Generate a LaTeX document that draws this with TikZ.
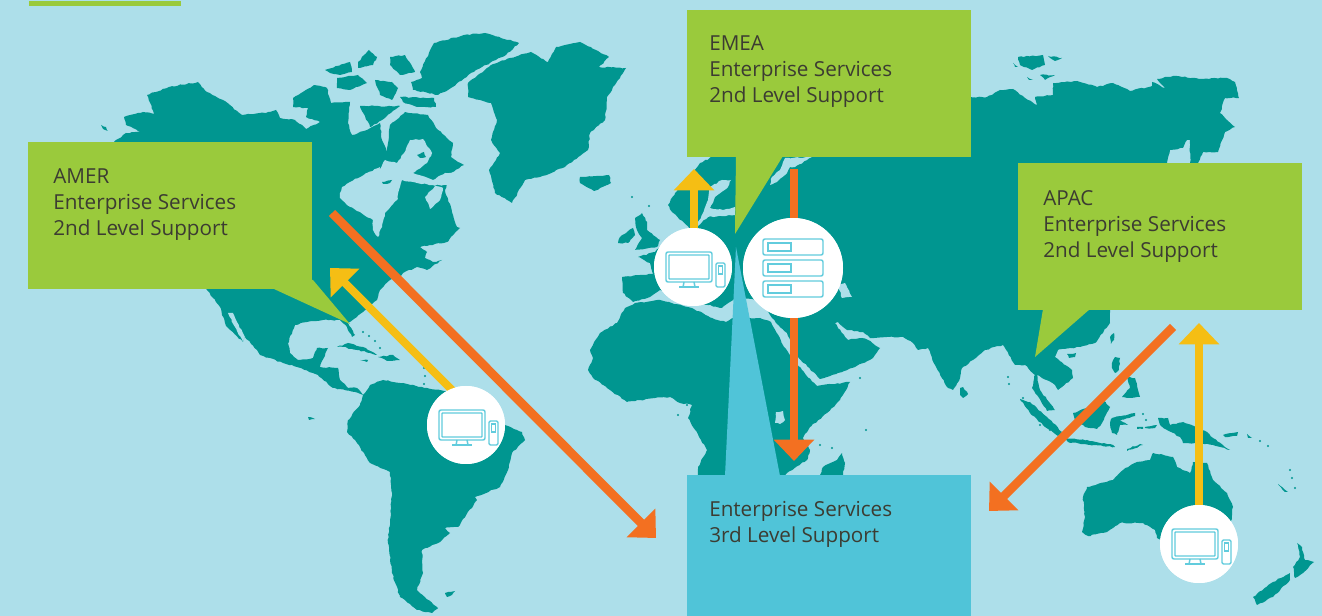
\documentclass[tikz,border=0pt]{standalone}
\usepackage{fontspec}
\setmainfont{Open Sans}
\usetikzlibrary{arrows.meta,decorations.pathmorphing}
\definecolor{seablue}{HTML}{ADDFEA}
\definecolor{landteal}{HTML}{009690}
\definecolor{boxgreen}{HTML}{9ACA3C}
\definecolor{boxblue}{HTML}{50C4D8}
\definecolor{arroworange}{HTML}{F37021}
\definecolor{arrowyellow}{HTML}{F5BE14}
\definecolor{icontone}{HTML}{62CCDD}
\definecolor{labeltone}{HTML}{3C3C32}
\newcommand{\landshape}[1]{\fill[landteal, decorate, decoration={random steps, segment length=2.2pt, amplitude=0.45pt}] plot [sharp cycle] coordinates {#1};}
\newcommand{\seashape}[1]{\fill[seablue, decorate, decoration={random steps, segment length=2.2pt, amplitude=0.45pt}] plot [sharp cycle] coordinates {#1};}
\newcommand{\pcicon}[1]{%
\begin{scope}[shift={(#1)}, iconline]
\draw[rounded corners=1.5pt] (-27,-15) rectangle (19,15);
\draw[rounded corners=0.5pt] (-24,-12) rectangle (16,12);
\draw (-9,15) -- (-10,20) (1,15) -- (2,20);
\draw (-14,20) -- (6,20);
\draw[rounded corners=1pt] (23,-4) rectangle (32,20);
\draw (25.5,-1) rectangle (29.5,7);
\end{scope}}
\tikzset{
  greenbox/.style = {fill=boxgreen, inner sep=0, outer sep=0, anchor=north west, minimum width=213.2pt, minimum height=110.25pt},
  bluebox/.style = {fill=boxblue, inner sep=0, outer sep=0, anchor=north west, minimum width=213pt, minimum height=105.75pt},
  boxlabel/.style = {text=labeltone, inner sep=0, anchor=north west, align=left, font=\fontsize{15.5}{19.5}\selectfont},
  iconline/.style = {draw=icontone, line width=1.1pt},
  devicedisc/.style = {circle, fill=white, inner sep=0, minimum size=58.5pt},
  serverdisc/.style = {circle, fill=white, inner sep=0, minimum size=75pt},
  orangearrow/.style = {draw=arroworange, line width=6.6pt, -{Triangle[width=29.5pt,length=16pt]}},
  yellowarrow/.style = {draw=arrowyellow, line width=6pt, -{Triangle[width=29.5pt,length=16pt]}},
}
\begin{document}
\begin{tikzpicture}[x=0.75pt, y=-0.75pt]
\useasboundingbox (0,0) rectangle (1322,616);
\fill[seablue] (0,0) rectangle (1322,616);
\fill[boxgreen] (29,1) rectangle (181,6);
% north america
\landshape{(114,142) (126,133) (141,132) (126,125) (124,117) (143,112) (154,114) (147,95) (169,87) (198,82) (207,92) (223,100) (242,115) (270,112) (276,110) (280,118) (295,120) (306,129) (320,122) (306,117) (308,108) (293,107) (293,98) (314,85) (327,88) (331,103) (350,102) (348,123) (352,135) (367,130) (380,123) (382,140) (387,152) (390,125) (405,112) (428,115) (436,128) (453,143) (451,157) (464,165) (451,173) (445,190) (457,227) (460,228) (447,242) (430,245) (420,247) (427,252) (425,258) (433,262) (442,260) (427,270) (417,267) (403,273) (400,277) (390,280) (380,290) (377,300) (363,312) (357,317) (348,323) (355,335) (352,337) (347,327) (340,320) (323,320) (307,322) (295,325) (288,343) (290,353) (298,360) (313,358) (317,348) (328,348) (320,367) (338,368) (340,380) (348,388) (357,388) (363,395) (355,392) (333,388) (318,375) (297,367) (283,363) (260,355) (257,350) (245,337) (243,342) (226,326) (220,307) (207,290) (120,200)}
% hudson bay and the straits
\seashape{(340,193) (342,187) (350,182) (367,173) (380,167) (378,173) (385,160) (397,163) (404,153) (410,140) (423,139) (432,153) (427,163) (413,173) (433,180) (445,173) (450,173) (467,173) (467,183) (447,185) (433,185) (417,183) (402,180) (400,187) (397,200) (385,213) (382,227) (378,237) (373,230) (373,220) (360,212) (347,205) (340,198)}
\seashape{(433,185) (443,188) (440,200) (430,209) (425,197) (434,187)}
\seashape{(228,313) (233,313) (237,322) (245,337) (243,342) (235,327)}
\landshape{(382,182) (392,180) (390,183) (383,184)}
\landshape{(417,155) (424,152) (426,157) (420,158)}
% arctic islands
\landshape{(325,70) (350,62) (352,72) (340,75) (330,73)}
\landshape{(337,78) (358,75) (367,83) (350,90) (337,88)}
\landshape{(358,62) (369,50) (377,57) (373,65) (358,68)}
\landshape{(390,57) (405,55) (415,72) (400,75) (390,65)}
\landshape{(375,80) (392,82) (398,88) (392,100) (380,95)}
\landshape{(400,97) (434,98) (436,107) (417,107) (403,102)}
\landshape{(360,106) (400,106) (382,120) (370,127) (365,116)}
\landshape{(420,72) (434,43) (464,35) (485,33) (519,43) (506,55) (476,70) (451,88) (438,95) (413,90) (411,82) (422,78)}
\landshape{(101,125) (106,127) (108,131) (103,129)}
% greenland and iceland
\landshape{(468,83) (491,65) (510,58) (531,52) (548,62) (556,47) (580,42) (609,57) (599,67) (626,68) (618,80) (607,97) (605,120) (590,133) (588,150) (565,167) (540,177) (525,180) (512,203) (495,193) (489,170) (500,153) (491,140) (497,120) (491,103) (468,97)}
\landshape{(580,177) (609,175) (611,183) (594,191) (580,183)}
% caribbean
\landshape{(337,347) (348,343) (363,347) (377,355) (370,353) (357,350) (343,347)}
\landshape{(378,357) (393,355) (400,360) (387,361)}
\landshape{(360,360) (368,360) (367,362)}
% south america
\landshape{(363,395) (360,405) (348,420) (347,432) (357,443) (370,463) (390,472) (392,493) (390,520) (388,543) (392,573) (400,597) (417,610) (432,613) (438,608) (417,590) (423,573) (422,550) (440,542) (450,533) (445,528) (458,527) (477,500) (475,497) (500,487) (508,470) (512,453) (525,440) (522,432) (505,425) (453,393) (427,388) (403,383) (383,380) (370,385)}
\landshape{(445,593) (455,591) (452,595) (447,597)}
\landshape{(308,417) (315,419) (309,420)}
% british isles
\landshape{(635,218) (642,213) (647,222) (647,230) (660,240) (657,247) (635,250) (642,238) (637,230)}
\landshape{(620,237) (633,228) (635,235) (628,243) (618,243)}
% eurasia
\landshape{(623,293) (622,277) (640,275) (653,274) (650,263) (638,257) (655,252) (668,238) (700,240) (690,229) (672,212) (668,205) (675,193) (700,163) (712,157) (730,120) (800,100) (970,97) (987,97) (1000,90) (1013,89) (1025,98) (1037,105) (1035,97) (1053,95) (1053,83) (1077,81) (1097,87) (1113,83) (1130,91) (1152,86) (1152,82) (1165,88) (1157,79) (1173,76) (1203,79) (1227,78) (1235,82) (1239,98) (1225,98) (1220,113) (1235,127) (1225,132) (1218,152) (1203,152) (1198,163) (1190,163) (1190,140) (1187,140) (1183,148) (1170,150) (1167,163) (1150,200) (1110,310) (1110,323) (1095,343) (1080,347) (1058,350) (1055,357) (1072,370) (1073,378) (1058,390) (1055,385) (1037,375) (1040,390) (1055,410) (1047,411) (1032,388) (1035,375) (1025,365) (1015,365) (1003,345) (985,350) (973,360) (962,368) (960,378) (953,390) (948,388) (935,365) (928,348) (918,350) (913,343) (903,337) (887,337) (870,338) (863,332) (847,330) (838,322) (835,323) (845,337) (848,340) (862,338) (868,340) (880,348) (873,358) (855,367) (827,377) (820,379) (798,357) (787,333) (776,323) (772,318) (760,300) (735,298) (722,308) (700,303) (660,290) (650,297) (633,302)}
% baltic, white sea, caspian
\seashape{(695,228) (708,217) (735,215) (735,207) (723,210) (710,208) (715,197) (728,187) (731,180) (722,180) (710,187) (708,200) (703,213)}
\seashape{(772,177) (780,170) (785,158) (812,157) (795,167) (790,167) (787,173) (777,182) (770,185)}
\seashape{(838,285) (845,283) (852,297) (842,298)}
% asian islands
\landshape{(1018,57) (1043,55) (1045,65) (1032,70) (1020,65)}
\landshape{(1048,56) (1062,58) (1055,61)}
\landshape{(1013,63) (1018,67) (1015,67)}
\landshape{(1027,77) (1033,80) (1029,80)}
\landshape{(1040,75) (1055,75) (1045,80)}
\landshape{(960,388) (963,387) (968,394) (963,398) (960,395)}
\landshape{(1067,354) (1076,353) (1075,357) (1069,358)}
\landshape{(1110,337) (1114,333) (1114,340) (1111,344)}
\landshape{(1112,363) (1115,357) (1120,358) (1119,370) (1115,373) (1112,368)}
\landshape{(1127,377) (1135,378) (1138,390) (1140,397) (1130,398) (1122,397) (1130,388)}
\landshape{(1020,399) (1030,402) (1047,417) (1062,432) (1058,436) (1045,427) (1030,413)}
\landshape{(1073,413) (1087,408) (1103,400) (1110,407) (1102,423) (1097,429) (1085,427) (1075,420)}
\landshape{(1065,438) (1087,440) (1113,445) (1115,447) (1090,445) (1068,442)}
\landshape{(1127,449) (1140,444) (1143,445) (1127,451)}
\landshape{(1112,418) (1135,413) (1135,416) (1120,420) (1128,425) (1120,425) (1117,435) (1112,433) (1110,423)}
\landshape{(1158,418) (1168,418) (1170,425) (1183,422) (1207,432) (1213,438) (1230,450) (1213,445) (1200,443) (1183,443) (1180,437) (1167,430) (1160,425)}
\landshape{(1223,435) (1238,432) (1237,436) (1225,437)}
\landshape{(1137,427) (1143,427) (1143,429) (1137,429)}
\landshape{(1145,427) (1157,425) (1155,428) (1147,428)}
\landshape{(1247,434) (1252,438) (1248,438)}
\landshape{(1278,484) (1288,492) (1285,492)}
% small island dots
\foreach \dotx/\doty in {632/197, 649/206, 860/378, 687/405, 678/415, 832/448, 820/445, 866/430, 1008/377, 1009/384, 1023/398, 1030/410, 1040/425, 1050/430, 363/332, 369/336, 375/341, 380/348, 424/368, 425/376, 424/384, 1260/441, 1268/446, 1290/470, 1292/478, 1295/488, 1143/414, 1146/420}
  \fill[landteal] (\dotx,\doty) circle (0.9pt);
% africa
\landshape{(625,308) (635,303) (660,300) (692,308) (712,318) (726,322) (733,318) (760,318) (771,322) (784,347) (806,375) (817,386) (850,382) (840,400) (827,413) (810,427) (803,438) (810,450) (807,460) (787,473) (780,480) (700,480) (698,475) (698,467) (707,450) (688,418) (692,405) (680,403) (670,397) (655,398) (627,402) (607,388) (593,378) (588,370) (593,358) (590,350) (600,333) (617,323)}
\seashape{(776,412) (783,411) (785,420) (780,424) (775,423)}
\landshape{(820,475) (823,467) (837,460) (842,453) (845,463) (842,478) (820,478)}
% australia and new zealand
\landshape{(1087,487) (1113,480) (1123,470) (1137,462) (1150,460) (1153,453) (1173,457) (1177,467) (1190,473) (1193,462) (1207,463) (1213,480) (1227,493) (1233,507) (1230,527) (1215,560) (1157,538) (1155,530) (1143,523) (1120,523) (1107,532) (1088,536) (1082,532) (1085,517) (1083,497)}
\landshape{(1297,543) (1302,547) (1305,560) (1314,562) (1303,573) (1295,578) (1293,567) (1300,557)}
\landshape{(1253,597) (1273,582) (1290,573) (1290,580) (1273,597) (1257,605)}
% device and server discs
\node[devicedisc] (pcAmer) at (466,425) {};
\node[devicedisc] (pcEmea) at (693,267) {};
\node[devicedisc] (pcApac) at (1199,544) {};
\node[serverdisc] (serverEmea) at (793,268) {};
% arrow ends
\coordinate (amerFoot) at (455,393);
\coordinate (amerTip) at (330,268);
\coordinate (emeaFoot) at (694,240);
\coordinate (emeaTip) at (694,169);
\coordinate (apacTip) at (1199,323);
\coordinate (amerStart) at (332,213);
\coordinate (amerEnd) at (656,538);
\coordinate (emeaStart) at (794,169);
\coordinate (emeaEnd) at (794,461);
\coordinate (apacStart) at (1173,327);
\coordinate (apacEnd) at (989,511);
\draw[orangearrow] (amerStart) -- (amerEnd);
\draw[orangearrow] (emeaStart) -- (emeaEnd);
\draw[orangearrow] (apacStart) -- (apacEnd);
\draw[yellowarrow] (amerFoot) -- (amerTip);
\draw[yellowarrow] (emeaFoot) -- (emeaTip);
\draw[yellowarrow] (pcApac) -- (apacTip);
% boxes and their pointers
\coordinate (amerPoint) at (350,324);
\coordinate (emeaPoint) at (735,234);
\coordinate (apacPoint) at (1035,357);
\coordinate (thirdPoint) at (736,247);
\fill[boxblue] (725,476) -- (thirdPoint) -- (780,476) -- cycle;
\node[greenbox] (amerBox) at (28,142) {};
\node[greenbox] (emeaBox) at (687,10) {};
\node[greenbox] (apacBox) at (1018,163) {};
\node[bluebox] (thirdBox) at (687,475) {};
\fill[boxgreen] (313,280) -- (amerPoint) -- (274,289) -- (274,280) -- cycle;
\fill[boxgreen] (736,156) -- (emeaPoint) -- (783,156) -- cycle;
\fill[boxgreen] (1043,309) -- (apacPoint) -- (1090,309) -- cycle;
% discs again over the arrows
\node[devicedisc] at (pcAmer) {};
\node[devicedisc] at (pcEmea) {};
\node[devicedisc] at (pcApac) {};
\node[serverdisc] at (serverEmea) {};
\pcicon{pcAmer}
\pcicon{pcEmea}
\pcicon{pcApac}
\begin{scope}[shift={(serverEmea)}, iconline]
\foreach \rowy in {-21,0,21} {
  \draw[rounded corners=1.5pt] (-30,\rowy-8) rectangle (30,\rowy+8);
  \draw (-25,\rowy-4) rectangle (-2,\rowy+4);
}
\end{scope}
% labels
\node[boxlabel] (amerText) at (53,168) {AMER\\Enterprise Services\\2nd Level Support};
\node[boxlabel] (emeaText) at (709,35) {EMEA\\Enterprise Services\\2nd Level Support};
\node[boxlabel] (apacText) at (1043,190) {APAC\\Enterprise Services\\2nd Level Support};
\node[boxlabel] (thirdText) at (709,501) {Enterprise Services\\3rd Level Support};
\end{tikzpicture}
\end{document}
